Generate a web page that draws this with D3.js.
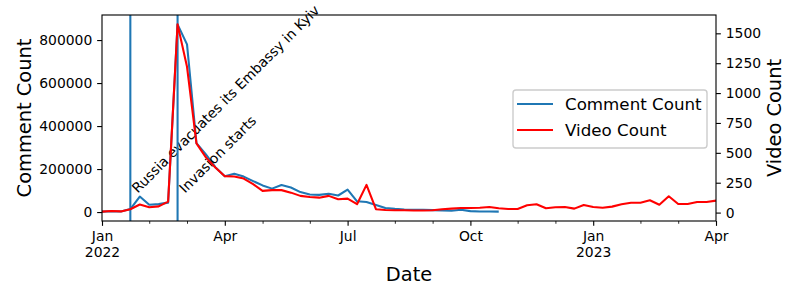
<!DOCTYPE html>
<html>
<head>
<meta charset="utf-8">
<script src="https://cdn.jsdelivr.net/npm/d3@7"></script>
<style>
body { margin: 0; background: #fff; }
svg { font-family: "DejaVu Sans", sans-serif; }
</style>
</head>
<body>
<svg width="800" height="300"></svg>
<script>
// weekly totals, weeks end on Sunday
var firstWeek = "2022-01-02";
var lastWeek = "2023-04-02";

var commentCount = [2000, 4000, 2500, 14000, 72000, 34000, 37000, 44000, 873000, 780000,
  321000, 268000, 209000, 167000, 178000, 165000, 144000, 124000, 109000, 126000,
  114000, 93000, 82000, 80000, 85000, 77000, 104000, 50000, 47000, 33000,
  19000, 15000, 12000, 10500, 10000, 9000, 7500, 6000, 10500, 4500,
  3000, 3000, 2000];

var videoCount = [8, 13, 10, 28, 68, 45, 52, 92, 1575, 1220,
  579, 462, 378, 305, 302, 285, 238, 182, 188, 188,
  167, 140, 131, 125, 140, 112, 117, 70, 232, 28,
  22, 19, 19, 18, 18, 20, 28, 33, 39, 39,
  41, 47, 36, 30, 30, 61, 70, 36, 45, 47,
  33, 64, 47, 41, 50, 70, 83, 83, 103, 66,
  137, 72, 72, 89, 89, 100];

var majorMonths = ["2022-01", "2022-04", "2022-07", "2022-10", "2023-01", "2023-04"];
var majorTickLabels = [["Jan", "2022"], ["Apr"], ["Jul"], ["Oct"], ["Jan", "2023"], ["Apr"]];
var leftTicks = [0, 200000, 400000, 600000, 800000];
var rightTicks = [0, 250, 500, 750, 1000, 1250, 1500];

var eventDates = ["2022-01-18", "2022-02-24"];
var eventLabels = ["Russia evacuates its Embassy in Kyiv", "Invasion starts"];

var svg = d3.select("svg");
var plotL = 102, plotR = 716, plotT = 15, plotB = 221;
var blue = "#1f77b4";
var pt = 100 / 72; // matplotlib points to px

var parseDay = d3.timeParse("%Y-%m-%d");
var parseMonth = d3.timeParse("%Y-%m");

var weeks = d3.timeSunday.range(parseDay(firstWeek), d3.timeDay.offset(parseDay(lastWeek), 1));
console.log("weeks", weeks.length);

var x = d3.scaleTime()
  .domain([weeks[0], weeks[weeks.length - 1]])
  .range([plotL, plotR]);

var padded = function(vals) {
  var lo = d3.min(vals), hi = d3.max(vals);
  var pad = (hi - lo) * 0.05;
  return [lo - pad, hi + pad];
};

var yL = d3.scaleLinear().domain(padded(commentCount)).range([plotB, plotT]);
var yR = d3.scaleLinear().domain(padded(videoCount)).range([plotB, plotT]);

// comment line
svg.append("path")
  .datum(commentCount)
  .attr("fill", "none")
  .attr("stroke", blue)
  .attr("stroke-width", 1.5 * pt)
  .attr("stroke-linejoin", "round")
  .attr("d", d3.line().x(function(d, i) { return x(weeks[i]); }).y(function(d) { return yL(d); }));

// events, snapped to their week
eventDates.forEach(function(d, i) {
  var wx = x(d3.timeSunday.ceil(parseDay(d)));
  svg.append("line")
    .attr("x1", wx).attr("x2", wx)
    .attr("y1", plotT).attr("y2", plotB)
    .attr("stroke", blue)
    .attr("stroke-width", 1.5 * pt);
  svg.append("text")
    .attr("transform", "translate(" + (wx + 7.5) + "," + yL(85000) + ") rotate(-45)")
    .style("font-size", "13.9px")
    .attr("fill", "#000")
    .text(eventLabels[i]);
});

// video line (twin axis)
svg.append("path")
  .datum(videoCount)
  .attr("fill", "none")
  .attr("stroke", "red")
  .attr("stroke-width", 1.5 * pt)
  .attr("stroke-linejoin", "round")
  .attr("d", d3.line().x(function(d, i) { return x(weeks[i]); }).y(function(d) { return yR(d); }));

// frame
svg.append("rect")
  .attr("x", plotL).attr("y", plotT)
  .attr("width", plotR - plotL).attr("height", plotB - plotT)
  .attr("fill", "none")
  .attr("stroke", "#000")
  .attr("stroke-width", 0.8 * pt);

// x axis
var monthStarts = d3.timeMonth.range(parseMonth("2022-01"), d3.timeDay.offset(parseMonth("2023-04"), 1));
var majorDates = majorMonths.map(function(m) { return d3.timeSunday.ceil(parseMonth(m)); });
var majorKeys = majorDates.map(function(d) { return +d; });
var minorDates = monthStarts.map(function(m) { return d3.timeSunday.ceil(m); })
  .filter(function(d) { return majorKeys.indexOf(+d) < 0; });

var xMinor = svg.append("g")
  .attr("transform", "translate(0," + plotB + ")")
  .call(d3.axisBottom(x).tickValues(minorDates).tickSize(2 * pt).tickFormat(""));
xMinor.select(".domain").remove();
xMinor.selectAll("line").attr("stroke-width", 0.6 * pt);

var xMajor = svg.append("g")
  .attr("transform", "translate(0," + plotB + ")")
  .call(d3.axisBottom(x).tickValues(majorDates).tickSize(3.5 * pt).tickPadding(3.5 * pt).tickFormat(""));
xMajor.select(".domain").remove();
xMajor.selectAll("line").attr("stroke-width", 0.8 * pt);
xMajor.selectAll(".tick text")
  .style("font-size", "13.9px")
  .style("font-family", "DejaVu Sans")
  .attr("fill", "#000")
  .each(function(d, i) {
    var t = d3.select(this);
    majorTickLabels[i].forEach(function(s, j) {
      t.append("tspan").attr("x", 0).attr("dy", j == 0 ? "0.71em" : "1.17em").text(s);
    });
  });

// left axis
var yAxisL = svg.append("g")
  .attr("transform", "translate(" + plotL + ",0)")
  .call(d3.axisLeft(yL).tickValues(leftTicks).tickSize(3.5 * pt).tickPadding(3.5 * pt).tickFormat(d3.format("d")));
yAxisL.select(".domain").remove();
yAxisL.selectAll("line").attr("stroke-width", 0.8 * pt);
yAxisL.selectAll("text").style("font-size", "13.9px").style("font-family", "DejaVu Sans").attr("fill", "#000");

// right axis
var yAxisR = svg.append("g")
  .attr("transform", "translate(" + plotR + ",0)")
  .call(d3.axisRight(yR).tickValues(rightTicks).tickSize(3.5 * pt).tickPadding(3.5 * pt).tickFormat(d3.format("d")));
yAxisR.select(".domain").remove();
yAxisR.selectAll("line").attr("stroke-width", 0.8 * pt);
yAxisR.selectAll("text").style("font-size", "13.9px").style("font-family", "DejaVu Sans").attr("fill", "#000");

// axis titles
svg.append("text")
  .attr("x", (plotL + plotR) / 2).attr("y", 281)
  .attr("text-anchor", "middle")
  .style("font-size", "19.4px")
  .text("Date");

svg.append("text")
  .attr("transform", "translate(31," + (plotT + plotB) / 2 + ") rotate(-90)")
  .attr("text-anchor", "middle")
  .style("font-size", "19.4px")
  .text("Comment Count");

svg.append("text")
  .attr("transform", "translate(781," + (plotT + plotB) / 2 + ") rotate(-90)")
  .attr("text-anchor", "middle")
  .style("font-size", "19.4px")
  .text("Video Count");

// legend
var legend = svg.append("g").attr("transform", "translate(513,90)");
legend.append("rect")
  .attr("width", 194).attr("height", 58)
  .attr("rx", 3)
  .attr("fill", "#fff").attr("fill-opacity", 0.8)
  .attr("stroke", "#cccccc").attr("stroke-width", pt);

var legendItems = [["Comment Count", blue], ["Video Count", "red"]];
legendItems.forEach(function(it, i) {
  var ly = 14 + i * 26;
  legend.append("line")
    .attr("x1", 4).attr("x2", 40)
    .attr("y1", ly).attr("y2", ly)
    .attr("stroke", it[1]).attr("stroke-width", 1.5 * pt);
  legend.append("text")
    .attr("x", 52).attr("y", ly + 6)
    .style("font-size", "16.7px")
    .text(it[0]);
});
</script>
</body>
</html>
